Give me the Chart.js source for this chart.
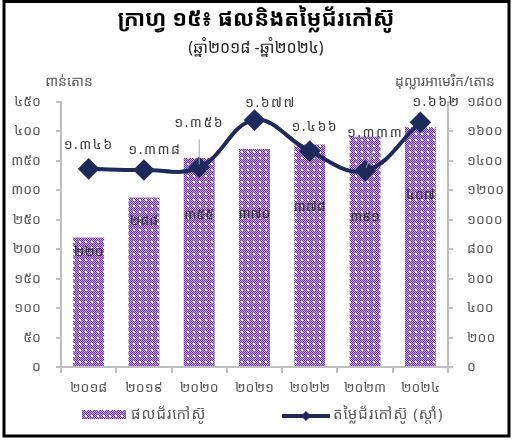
<!DOCTYPE html>
<html><head><meta charset="utf-8">
<script src="https://cdn.jsdelivr.net/npm/chart.js@4.4.0/dist/chart.umd.min.js"></script>
<style>html,body{margin:0;padding:0;background:#fff}canvas{display:block}</style>
</head><body>
<canvas id="c" width="512" height="440"></canvas>
<script>
const categories = ['២០១៨','២០១៩','២០២០','២០២១','២០២២','២០២៣','២០២៤'];
const production = [220, 288, 355, 370, 378, 391, 407];
const prices = [1346, 1338, 1356, 1677, 1466, 1333, 1662];
const leftTickLabels = ['០','៥០','១០០','១៥០','២០០','២៥០','៣០០','៣៥០','៤០០','៤៥០'];
const rightTickLabels = ['០','២០០','៤០០','៦០០','៨០០','១០០០','១២០០','១៤០០','១៦០០','១៨០០'];
const titleText = 'ក្រាហ្វ ១៥៖ ផលនិងតម្លៃជ័រកៅស៊ូ';
const subtitleText = '(ឆ្នាំ២០១៨ -ឆ្នាំ២០២៤)';
const leftAxisTitle = 'ពាន់តោន';
const rightAxisTitle = 'ដុល្លារអាមេរិក/តោន';
const barLegend = 'ផលជ័រកៅស៊ូ';
const lineLegend = 'តម្លៃជ័រកៅស៊ូ (ស្តាំ)';

const KD = ['០','១','២','៣','៤','៥','៦','៧','៨','៩'];
function kh(n){ return String(n).replace(/[0-9]/g, d => KD[+d]); }
function khThousand(n){ const s=String(n); return kh(s.length>3 ? s.slice(0,-3)+'.'+s.slice(-3) : s); }

// label placement styles (pixel offsets relative to the drawn marks)
const barLabelDrop = [15, 24, 57, 65, 63, 80, 68];
const lineLabelOff = [[0,-24],[11,-20],[0,-44],[16,-17],[5,-24],[10,-38],[16,-20]];
const leaderIdx = {2:[[0,-28],[0,-3]], 5:[[9,-22],[1,-3]]};

const FONT = "'Noto Sans Khmer','Khmer OS','Khmer OS System','Noto Sans','DejaVu Sans',sans-serif";
const NAVY = '#1f2a5c';
const AXIS = '#bfbfbf';
const TXT = '#595959';

const ctx0 = document.getElementById('c').getContext('2d');
function makePattern(){
  const c=document.createElement('canvas'); c.width=6; c.height=6;
  const x=c.getContext('2d');
  for(let i=0;i<6;i++)for(let j=0;j<6;j++){
    x.fillStyle = ((i+j)%2===0) ? '#7030a0' : '#c4a6e0';
    x.fillRect(i,j,1,1);
  }
  x.fillStyle='#ffffff';
  x.fillRect(1,1,2,2);
  return ctx0.createPattern(c,'repeat');
}
const barFill = makePattern();

const decor = {
  id:'decor',
  afterDatasetsDraw(chart){
    const ctx=chart.ctx;
    const xs=chart.scales.x, yl=chart.scales.y, yr=chart.scales.y1;
    ctx.save();
    ctx.textAlign='center'; ctx.textBaseline='middle';
    ctx.font = "14px "+FONT;
    ctx.fillStyle='#333333';
    production.forEach((v,i)=>{
      const x=xs.getPixelForValue(i), y=yl.getPixelForValue(v);
      ctx.fillText(kh(v), x, y+barLabelDrop[i]);
    });
    ctx.letterSpacing='1.5px';
    prices.forEach((v,i)=>{
      const x=xs.getPixelForValue(i), y=yr.getPixelForValue(v);
      if(leaderIdx[i]){
        const [a,b]=leaderIdx[i];
        ctx.strokeStyle='#a6a6a6'; ctx.lineWidth=1;
        ctx.beginPath(); ctx.moveTo(x+a[0],y+a[1]); ctx.lineTo(x+b[0],y+b[1]); ctx.stroke();
      }
      ctx.fillStyle='#404040';
      ctx.fillText(khThousand(v), x+lineLabelOff[i][0], y+lineLabelOff[i][1]);
    });
    ctx.restore();
  },
  afterDraw(chart){
    const ctx=chart.ctx;
    ctx.save();
    ctx.fillStyle='#000'; ctx.textAlign='center'; ctx.textBaseline='middle';
    ctx.font="bold 22px "+FONT;
    ctx.fillText(titleText, 256, 20);
    ctx.font="16px "+FONT; ctx.fillStyle='#262626';
    ctx.fillText(subtitleText, 256, 48);
    ctx.font="14px "+FONT; ctx.fillStyle=TXT;
    ctx.textAlign='center';
    ctx.fillText(leftAxisTitle, 69, 82);
    ctx.fillText(rightAxisTitle, 445, 82);
    // legend
    ctx.fillStyle=barFill; ctx.fillRect(82,410,44,9);
    ctx.fillStyle=TXT; ctx.textAlign='left'; ctx.font="15px "+FONT;
    ctx.letterSpacing='1px';
    ctx.fillText(barLegend, 131, 415);
    ctx.strokeStyle=NAVY; ctx.lineWidth=4;
    ctx.beginPath(); ctx.moveTo(282,416); ctx.lineTo(330,416); ctx.stroke();
    ctx.fillStyle=NAVY;
    ctx.beginPath(); ctx.moveTo(306,411); ctx.lineTo(311,416); ctx.lineTo(306,421); ctx.lineTo(301,416); ctx.closePath(); ctx.fill();
    ctx.fillStyle=TXT;
    ctx.fillText(lineLegend, 333, 415);
    ctx.letterSpacing='0px';
    // frame
    ctx.strokeStyle='#000'; ctx.lineWidth=3;
    ctx.strokeRect(4,1.5,505,434.5);
    ctx.restore();
  }
};

new Chart(ctx0, {
  data:{
    labels:categories,
    datasets:[
      {type:'line', label:lineLegend, data:prices, yAxisID:'y1', order:0,
       borderColor:NAVY, backgroundColor:NAVY, borderWidth:4, tension:0.4,
       pointStyle:'rectRot', pointRadius:8, pointHoverRadius:8, pointBackgroundColor:NAVY, pointBorderColor:NAVY},
      {type:'bar', label:barLegend, data:production, yAxisID:'y', order:1,
       backgroundColor:barFill, borderWidth:0, categoryPercentage:1, barPercentage:0.56}
    ]
  },
  options:{
    responsive:false, animation:false,
    layout:{padding:{top:102,left:0,right:0,bottom:0}},
    plugins:{legend:{display:false}, tooltip:{enabled:false}, title:{display:false}},
    scales:{
      x:{offset:true,
         grid:{offset:true, drawOnChartArea:false, drawTicks:true, tickLength:6, color:AXIS, lineWidth:2},
         border:{color:AXIS, width:2},
         ticks:{font:{family:FONT,size:14}, color:TXT, padding:7},
         afterFit(s){s.height=73;}},
      y:{position:'left', min:0, max:450,
         ticks:{stepSize:50, font:{family:FONT,size:14}, color:TXT, padding:15,
                callback:(v,i)=>leftTickLabels[i]},
         grid:{drawOnChartArea:false, tickLength:5, color:AXIS, lineWidth:2},
         border:{color:AXIS, width:2},
         afterFit(s){s.width=61;}},
      y1:{position:'right', min:0, max:1800,
         ticks:{stepSize:200, font:{family:FONT,size:14}, color:TXT, padding:14,
                callback:(v,i)=>rightTickLabels[i]},
         grid:{drawOnChartArea:false, tickLength:5, color:AXIS, lineWidth:2},
         border:{color:AXIS, width:2},
         afterFit(s){s.width=64;}}
    }
  },
  plugins:[decor]
});
</script>
</body></html>
